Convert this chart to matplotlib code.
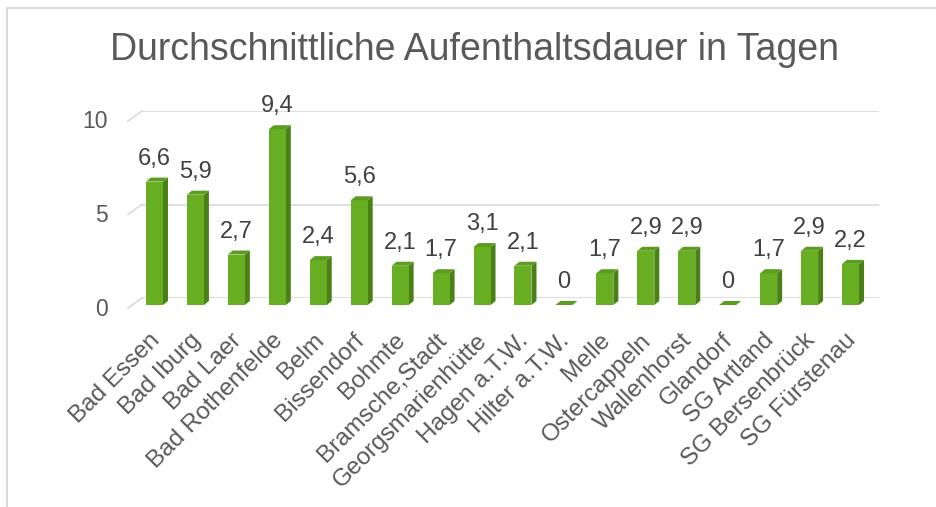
import matplotlib
matplotlib.use("Agg")
import matplotlib.pyplot as plt
import matplotlib.transforms as mtransforms
from matplotlib.patches import Polygon
from matplotlib.lines import Line2D

plt.rcParams['font.family'] = ['Liberation Sans', 'DejaVu Sans']

orte = ["Bad Essen", "Bad Iburg", "Bad Laer", "Bad Rothenfelde", "Belm",
        "Bissendorf", "Bohmte", "Bramsche,Stadt", "Georgsmarienhütte",
        "Hagen a.T.W.", "Hilter a.T.W.", "Melle", "Ostercappeln",
        "Wallenhorst", "Glandorf", "SG Artland", "SG Bersenbrück",
        "SG Fürstenau"]
dauer = [6.6, 5.9, 2.7, 9.4, 2.4, 5.6, 2.1, 1.7, 3.1, 2.1, 0, 1.7, 2.9,
         2.9, 0, 1.7, 2.9, 2.2]
yticks = [0, 5, 10]

titel = "Durchschnittliche Aufenthaltsdauer in Tagen"

c_front = "#68AE22"
c_side = "#4A8016"
c_top = "#5C9C1F"
c_grid = "#D9D9D9"
c_text = "#595959"

W, H = 936, 507
fig = plt.figure(figsize=(W / 100, H / 100), dpi=100)
ax = fig.add_axes([142 / W, (H - 298) / H, 737 / W, 187 / H])
ax.set_xlim(-0.5, len(orte) - 0.5)
ax.set_ylim(0, 10)
ax.axis("off")

px_x = 737 / len(orte)   # pixel pro Kategorie
px_y = 18.7              # pixel pro Einheit

# Rueckwand-Gitterlinien + schraege Linien an der linken Seite
for g in yticks:
    ax.axhline(g, color=c_grid, lw=1.2, zorder=0)
    ax.add_line(Line2D([-0.5, -0.5 - 14 / px_x], [g, g - 10 / px_y],
                       color=c_grid, lw=1.2, clip_on=False, zorder=0))
    ax.text(-0.5, g, str(g), fontsize=16.5, color=c_text, ha="right", va="center",
            transform=ax.transData + mtransforms.ScaledTranslation(-0.34, -0.11, fig.dpi_scale_trans))

# Balken (Vorderseite leicht nach links unten versetzt)
front = ax.transData + mtransforms.ScaledTranslation(-0.08, -0.07, fig.dpi_scale_trans)
w = 17 / px_x
dx = 5 / px_x
dy = 4 / px_y
x = list(range(len(orte)))
ax.bar(x, dauer, width=w, color=c_front, transform=front, zorder=3, clip_on=False)
for xi, v in zip(x, dauer):
    r = xi + w / 2
    l = xi - w / 2
    ax.add_patch(Polygon([(r, 0), (r + dx, dy), (r + dx, v + dy), (r, v)],
                         closed=True, facecolor=c_side, edgecolor="none",
                         transform=front, zorder=2, clip_on=False))
    ax.add_patch(Polygon([(l, v), (r, v), (r + dx, v + dy), (l + dx, v + dy)],
                         closed=True, facecolor=c_top, edgecolor="none",
                         transform=front, zorder=4, clip_on=False))
    label = ("%g" % v).replace(".", ",")
    ax.text(xi, v, label, fontsize=17, color="#404040", ha="center", va="baseline",
            transform=front + mtransforms.ScaledTranslation(0, 0.17, fig.dpi_scale_trans),
            clip_on=False)

for xi, name in zip(x, orte):
    ax.text(xi, 0, name, fontsize=17.5, color=c_text, rotation=45,
            rotation_mode="anchor", ha="right", va="center",
            transform=front + mtransforms.ScaledTranslation(0.02, -0.32, fig.dpi_scale_trans),
            clip_on=False)

fig.text(474 / W, 1 - 50 / H, titel, fontsize=27, color=c_text,
         ha="center", va="center")

# Rahmen links und oben
fig.add_artist(Line2D([7.5 / W, 7.5 / W], [0, 1 - 7.5 / H], color=c_grid, lw=1.5,
                      transform=fig.transFigure))
fig.add_artist(Line2D([7.5 / W, 1], [1 - 7.5 / H, 1 - 7.5 / H], color=c_grid, lw=1.5,
                      transform=fig.transFigure))

fig.savefig("out.png", dpi=100, facecolor="white")
